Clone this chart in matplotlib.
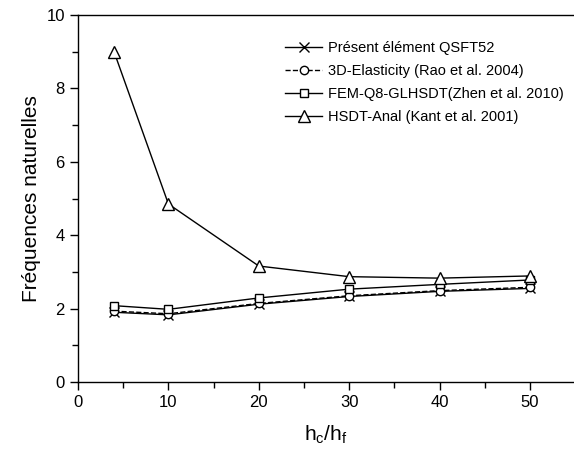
import matplotlib
matplotlib.use('Agg')
from matplotlib import pyplot as plt
from matplotlib.ticker import MultipleLocator

plt.rcParams['font.family'] = ['Liberation Sans', 'DejaVu Sans']

# h_c / h_f ratios
ratios = [4, 10, 20, 30, 40, 50]

# natural frequencies
present_qsft52 = [1.90, 1.83, 2.12, 2.33, 2.47, 2.55]
elasticity_3d = [1.93, 1.86, 2.14, 2.35, 2.49, 2.58]
fem_q8 = [2.08, 1.98, 2.29, 2.53, 2.66, 2.78]
hsdt_anal = [8.99, 4.85, 3.16, 2.87, 2.83, 2.89]

labels = ['Présent élément QSFT52',
          '3D-Elasticity (Rao et al. 2004)',
          'FEM-Q8-GLHSDT(Zhen et al. 2010)',
          'HSDT-Anal (Kant et al. 2001)']

fig = plt.figure(figsize=(5.74, 4.50), dpi=100)
# axes run off the right edge of the picture, like the original
ax = fig.add_axes([78 / 574, 68 / 450, 1 - 78 / 574, 367 / 450])

ax.plot(ratios, present_qsft52, '-x', color='black', lw=1, ms=7, mew=1, label=labels[0])
ax.plot(ratios, elasticity_3d, '--o', color='black', lw=1, ms=6, mew=1, mfc='white', label=labels[1])
ax.plot(ratios, fem_q8, '-s', color='black', lw=1, ms=6, mew=1, mfc='white', label=labels[2])
ax.plot(ratios, hsdt_anal, '-^', color='black', lw=1, ms=8, mew=1, mfc='white', label=labels[3])

ax.set_xlim(0, (574 - 78) / 9.04)
ax.set_ylim(0, 10)
ax.xaxis.set_major_locator(MultipleLocator(10))
ax.xaxis.set_minor_locator(MultipleLocator(5))
ax.yaxis.set_major_locator(MultipleLocator(2))
ax.yaxis.set_minor_locator(MultipleLocator(1))
ax.tick_params(which='major', direction='out', length=6, width=1, labelsize=12)
ax.tick_params(which='minor', direction='out', length=4, width=1)
ax.spines['right'].set_visible(False)
for s in ['left', 'top', 'bottom']:
    ax.spines[s].set_linewidth(1)

ax.set_ylabel('Fréquences naturelles', fontsize=15, labelpad=4)
ax.set_xlabel(r'$\mathregular{h_c/h_f}$', fontsize=15, labelpad=10)

ax.legend(loc='upper left', bbox_to_anchor=(0.39, 0.965), frameon=False,
          fontsize=10.5, handlelength=2.6, handletextpad=0.4, labelspacing=0.62)

plt.savefig('out.png', dpi=100)
